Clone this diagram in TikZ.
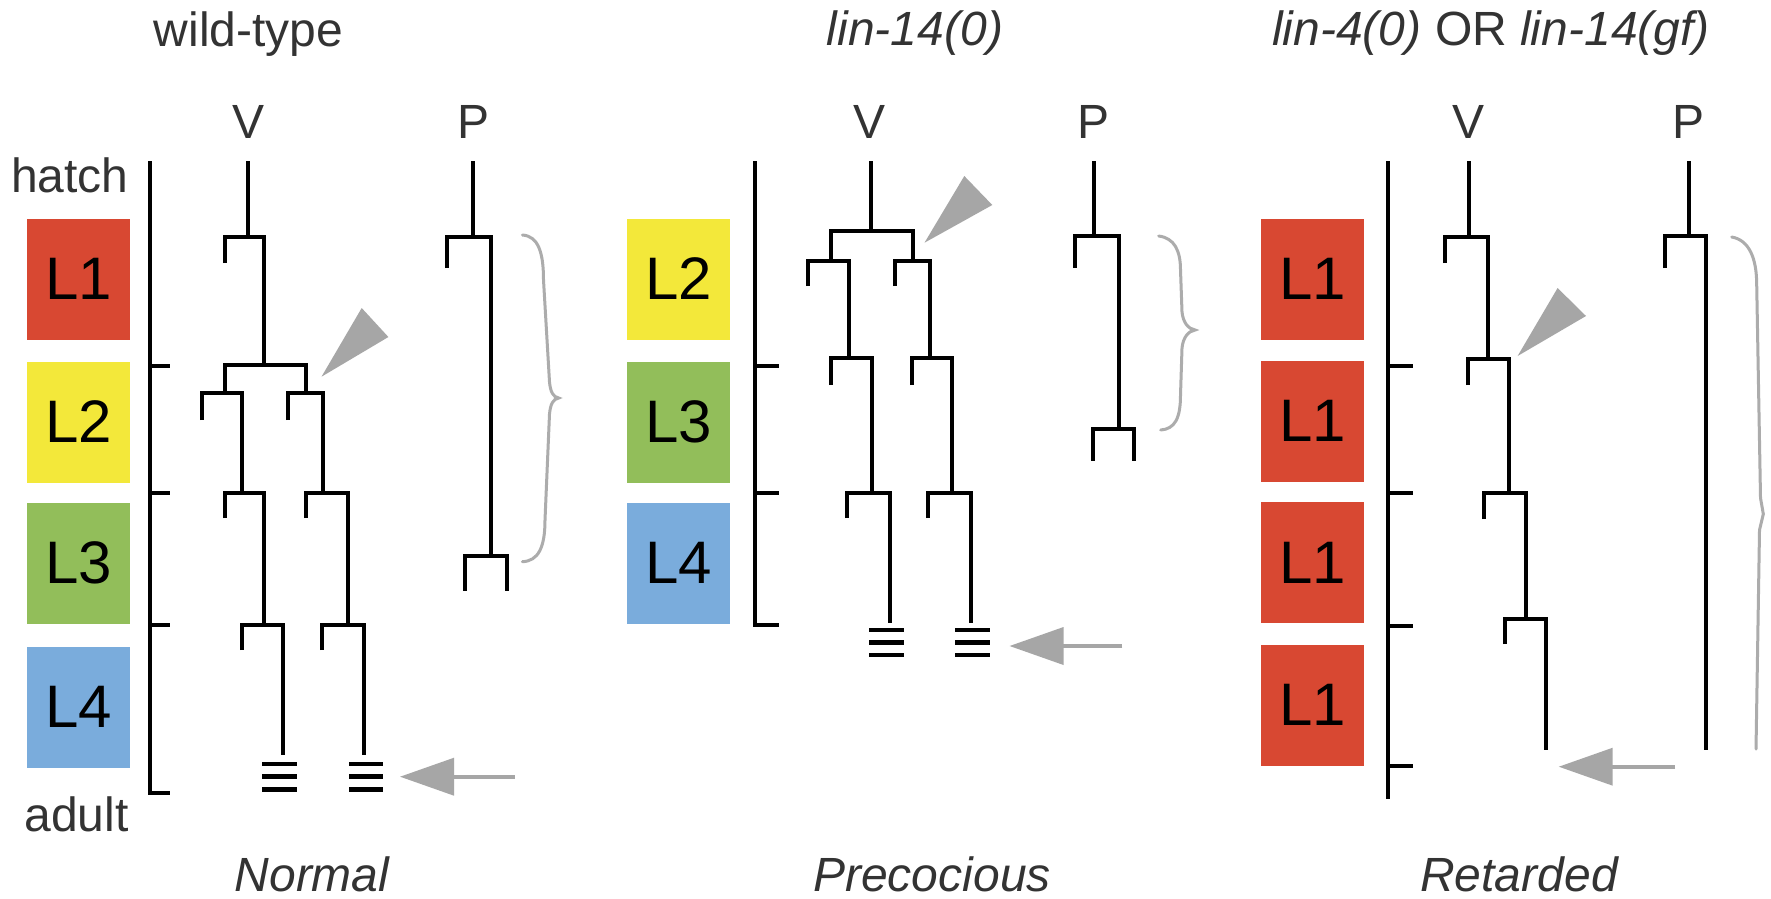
\documentclass[tikz,border=0pt]{standalone}
\usepackage{fontspec}
\setmainfont{Liberation Sans}
\usetikzlibrary{arrows.meta}
\definecolor{lred}{RGB}{216,72,50}
\definecolor{lyellow}{RGB}{243,232,58}
\definecolor{lgreen}{RGB}{146,190,90}
\definecolor{lblue}{RGB}{122,172,220}
\definecolor{mgray}{RGB}{166,166,166}
\definecolor{bgray}{RGB}{172,172,172}
\definecolor{txt}{RGB}{51,51,51}
\begin{document}
\begin{tikzpicture}[x=1pt,y=-1pt,
  lin/.style={line width=4pt,line join=miter,black},
  adultmark/.style={line width=4.8pt,black},
  stagebox/.style={draw=none,minimum width=103pt,minimum height=121pt,inner sep=0pt,text=black,font=\fontsize{60}{60}\selectfont},
  lbl/.style={anchor=base,inner sep=0pt,text=txt,font=\fontsize{48}{48}\selectfont},
  grayhead/.style={fill=mgray,draw=none},
  grayarrow/.style={draw=mgray,line width=3.6pt,-{Triangle[length=54pt,width=37pt]}},
  bracestyle/.style={draw=bgray,line width=3pt,line cap=round}
]
\fill[white] (0,0) rectangle (1771,898);
\useasboundingbox (0,0) rectangle (1771,898);

% ---------------- titles ----------------
\node[lbl] (t1) at (248.4,46.7) {wild-type};
\node[lbl] (t2) at (915,45.5) {\itshape lin-14(0)};
\node[lbl] (t3) at (1491,45.5) {\itshape lin-4(0)\upshape{} OR \itshape lin-14(gf)};

\node[lbl] (v1) at (248.8,138) {V};
\node[lbl] (p1) at (473.4,138) {P};
\node[lbl] (v2) at (869.5,138) {V};
\node[lbl] (p2) at (1093.5,138) {P};
\node[lbl] (v3) at (1468.8,138) {V};
\node[lbl] (p3) at (1688.7,138) {P};

\node[lbl] (hatch) at (69.8,192) {hatch};
\node[lbl] (adult) at (76.5,831.7) {adult};

\node[lbl] (n1) at (312,891) {\itshape Normal};
\node[lbl] (n2) at (932,891) {\itshape Precocious};
\node[lbl] (n3) at (1519,891) {\itshape Retarded};

% ---------------- stage boxes ----------------
\node[stagebox,fill=lred]    (a1) at (78.45,279) {L1};
\node[stagebox,fill=lyellow] (a2) at (78.45,422) {L2};
\node[stagebox,fill=lgreen]  (a3) at (78.45,563) {L3};
\node[stagebox,fill=lblue]   (a4) at (78.45,707) {L4};

\node[stagebox,fill=lyellow] (b2) at (678.45,279) {L2};
\node[stagebox,fill=lgreen]  (b3) at (678.45,422) {L3};
\node[stagebox,fill=lblue]   (b4) at (678.45,563) {L4};

\node[stagebox,fill=lred] (c1) at (1312.9,279) {L1};
\node[stagebox,fill=lred] (c2) at (1312.9,421) {L1};
\node[stagebox,fill=lred] (c3) at (1312.9,562.5) {L1};
\node[stagebox,fill=lred] (c4) at (1312.9,705) {L1};

% ---------------- time lines ----------------
\draw[lin] (150.4,161) -- (150.4,793) -- (170.3,793);
\foreach \y in {365.7,493,625} \draw[lin] (150.4,\y) -- (170.3,\y);

\draw[lin] (755,161) -- (755,625) -- (779,625);
\foreach \y in {365.7,493} \draw[lin] (755,\y) -- (779,\y);

\draw[lin] (1388.3,161) -- (1388.3,799);
\foreach \y in {365.7,493,625.7,766} \draw[lin] (1388.3,\y) -- (1413,\y);

% ---------------- wild-type V lineage ----------------
\draw[lin] (247.6,161) -- (247.6,236.7);
\draw[lin] (225,263) -- (225,236.7) -- (264,236.7) -- (264,365);
\draw[lin] (225,393) -- (225,365) -- (306.2,365) -- (306.2,393);
\draw[lin] (201.7,420) -- (201.7,393) -- (241.9,393) -- (241.9,493);
\draw[lin] (287.8,420) -- (287.8,393) -- (323.4,393) -- (323.4,493);
\draw[lin] (225,518) -- (225,493) -- (264,493) -- (264,625);
\draw[lin] (306.2,518) -- (306.2,493) -- (347.5,493) -- (347.5,625);
\draw[lin] (241.9,650) -- (241.9,625) -- (283.2,625) -- (283.2,755);
\draw[lin] (321.5,650) -- (321.5,625) -- (364.3,625) -- (364.3,755);
\foreach \y in {764,776.7,789.3} {
  \draw[adultmark] (262.2,\y) -- (296.6,\y);
  \draw[adultmark] (349,\y) -- (382.7,\y);
}
% P lineage
\draw[lin] (472.6,161) -- (472.6,236.7);
\draw[lin] (447,268) -- (447,236.7) -- (490.6,236.7) -- (490.6,556);
\draw[lin] (465,590.7) -- (465,556) -- (507,556) -- (507,590.7);
% pointer and brace
\fill[grayhead] (321.5,376.7) -- (361.7,308) -- (388.4,337) -- cycle;
\draw[bracestyle] (522.4,235) .. controls (538,236) and (543.5,252) .. (543.5,280)
  -- (549.5,382) .. controls (550.5,392) and (553,397) .. (558.7,398)
  .. controls (553,399) and (550.5,404) .. (549.5,414)
  -- (545,520) .. controls (545,548) and (538,561) .. (522.4,561.7);
\coordinate (s1) at (514.7,776.7);
\coordinate (e1) at (400,776.7);
\draw[grayarrow] (s1) -- (e1);

% ---------------- lin-14(0) ----------------
\draw[lin] (870.6,161) -- (870.6,230.7);
\draw[lin] (830.8,260.7) -- (830.8,230.7) -- (912.7,230.7) -- (912.7,260.7);
\draw[lin] (807.8,286) -- (807.8,260.7) -- (848.8,260.7) -- (848.8,358);
\draw[lin] (894.7,286) -- (894.7,260.7) -- (929.9,260.7) -- (929.9,358);
\draw[lin] (830.8,385) -- (830.8,358) -- (871.7,358) -- (871.7,493);
\draw[lin] (911.9,385) -- (911.9,358) -- (952.1,358) -- (952.1,493);
\draw[lin] (846.8,518) -- (846.8,493) -- (889.7,493) -- (889.7,622.7);
\draw[lin] (928.4,518) -- (928.4,493) -- (970.5,493) -- (970.5,622.7);
\foreach \y in {630,642.7,655} {
  \draw[adultmark] (869,\y) -- (903.5,\y);
  \draw[adultmark] (955.2,\y) -- (990.4,\y);
}
\draw[lin] (1093.7,161) -- (1093.7,236);
\draw[lin] (1074.6,267.7) -- (1074.6,236) -- (1118.6,236) -- (1118.6,429);
\draw[lin] (1092.9,460.7) -- (1092.9,429) -- (1133.9,429) -- (1133.9,460.7);
\fill[grayhead] (924.5,242.7) -- (964.3,176) -- (992.3,205) -- cycle;
\draw[bracestyle] (1158.7,236) .. controls (1174,238) and (1180.5,250) .. (1180.5,270)
  -- (1182,312) .. controls (1183,322) and (1188,329) .. (1195.1,330)
  .. controls (1188,331) and (1183,338) .. (1182,348)
  -- (1180.5,395) .. controls (1180.5,418) and (1175,429) .. (1160.7,430);
\coordinate (s2) at (1122.4,646);
\coordinate (e2) at (1009.5,646);
\draw[grayarrow] (s2) -- (e2);

% ---------------- lin-4(0) OR lin-14(gf) ----------------
\draw[lin] (1468.8,161) -- (1468.8,236.7);
\draw[lin] (1444.7,263) -- (1444.7,236.7) -- (1487.7,236.7) -- (1487.7,359);
\draw[lin] (1467.7,385) -- (1467.7,359) -- (1508.8,359) -- (1508.8,493);
\draw[lin] (1484,519) -- (1484,493) -- (1525.9,493) -- (1525.9,619);
\draw[lin] (1505.2,644) -- (1505.2,619) -- (1546,619) -- (1546,750);
\draw[lin] (1688.7,161) -- (1688.7,236);
\draw[lin] (1665.4,268) -- (1665.4,236) -- (1705.5,236) -- (1705.5,750);
\fill[grayhead] (1517.6,356) -- (1557.6,288) -- (1586,316) -- cycle;
\draw[bracestyle] (1731.7,237) .. controls (1749,240) and (1756.7,258) .. (1756.7,285)
  -- (1760.5,498) -- (1763.3,514) -- (1759.5,530) -- (1756,749);
\coordinate (s3) at (1675.2,766.7);
\coordinate (e3) at (1558.7,766.7);
\draw[grayarrow] (s3) -- (e3);
\end{tikzpicture}
\end{document}
